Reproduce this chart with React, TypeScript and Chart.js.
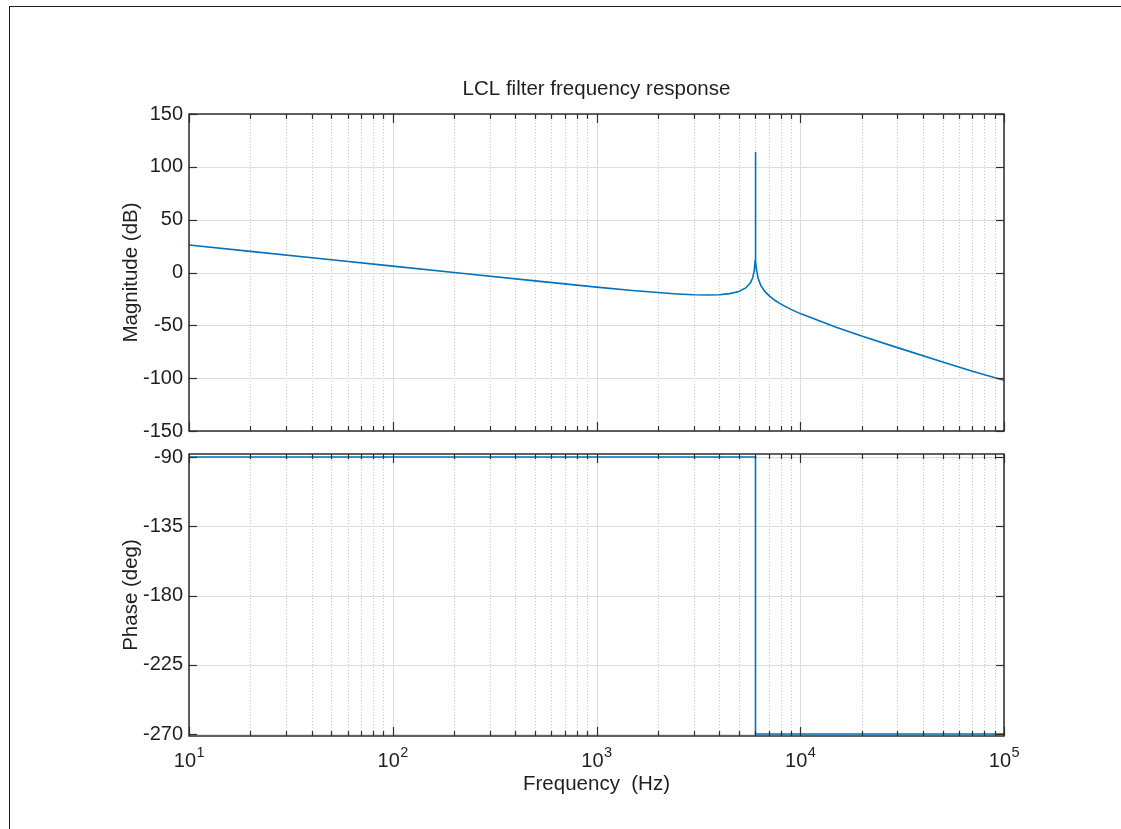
import React, { useEffect, useRef } from 'react';
import { Chart, registerables } from 'chart.js';

Chart.register(...registerables);

// ---- data ----
const TITLE = 'LCL filter frequency response';

// Magnitude response of the LCL filter (Hz, dB)
const FREQ_HZ = [
  10, 20, 50, 100, 200, 500, 1000,
  1500, 2000, 2500, 3000, 3500, 4000, 4500, 5000,
  5400, 5700, 5850, 5950, 6000, 6020,
  6029, 6030, 6031, 6040, 6060, 6100,
  6200, 6400, 6700, 7000, 7500, 8000, 9000, 10000,
  15000, 20000, 30000, 50000, 70000, 100000,
];
const MAGNITUDE_DB = [
  26.0, 20.0, 12.0, 6.0, 0.0, -7.9, -13.8,
  -17.0, -19.0, -20.3, -21.1, -21.3, -21.0, -20.0, -17.9,
  -14.6, -9.7, -4.7, 2.1, 10.5, 20.0,
  40.0, 114.0, 40.0, 20.0, 10.2, 3.0,
  -4.9, -12.2, -17.9, -21.7, -26.3, -29.7, -34.9, -38.9,
  -51.8, -60.0, -71.1, -84.6, -93.4, -102.0,
];

// Phase response (Hz, degrees)
const PHASE_FREQ_HZ = [10, 6030, 6030, 100000];
const PHASE_DEG = [-90, -90, -270, -270];

// ---- axes ----
const X_MIN = 10;
const X_MAX = 100000;
const X_DECADES = [10, 100, 1000, 10000, 100000];
const X_DECADE_EXPONENTS = ['1', '2', '3', '4', '5'];
const X_MINOR_STEPS = [2, 3, 4, 5, 6, 7, 8, 9];
const MAG_TICKS = [-150, -100, -50, 0, 50, 100, 150];
const MAG_RANGE = [-150, 150];
const PHASE_TICKS = [-270, -225, -180, -135, -90];
const PHASE_RANGE = [-271.3, -88.05];

const X_MINOR: number[] = [];
X_DECADES.slice(0, -1).forEach((d) => X_MINOR_STEPS.forEach((m) => X_MINOR.push(d * m)));

const FONT = "'Liberation Sans', Arial, Helvetica, sans-serif";
const TEXT = '#1f1f1f';
const LINE_BLUE = '#0072BD';
const AXIS = '#2e2e2e';

const W = 1121;
const H = 829;

function makeFrame(yTicks: number[]) {
  return {
    id: 'bodeFrame',
    beforeDatasetsDraw(chart: any) {
      const { ctx, chartArea: a } = chart;
      const xs = chart.scales.x;
      const ys = chart.scales.y;
      const seg = (x1: number, y1: number, x2: number, y2: number) => {
        ctx.beginPath();
        ctx.moveTo(x1, y1);
        ctx.lineTo(x2, y2);
        ctx.stroke();
      };
      ctx.save();
      ctx.lineWidth = 1;
      // dotted minor grid
      ctx.strokeStyle = '#c6c6c6';
      ctx.setLineDash([1, 2]);
      X_MINOR.forEach((v) => {
        const px = Math.round(xs.getPixelForValue(v)) + 0.5;
        seg(px, a.top, px, a.bottom);
      });
      // solid major grid
      ctx.setLineDash([]);
      ctx.strokeStyle = '#dcdcdc';
      X_DECADES.forEach((v) => {
        const px = Math.round(xs.getPixelForValue(v)) + 0.5;
        seg(px, a.top, px, a.bottom);
      });
      yTicks.forEach((v) => {
        const py = Math.round(ys.getPixelForValue(v)) + 0.5;
        seg(a.left, py, a.right, py);
      });
      ctx.restore();
    },
    afterDatasetsDraw(chart: any) {
      const { ctx, chartArea: a } = chart;
      const xs = chart.scales.x;
      const ys = chart.scales.y;
      const seg = (x1: number, y1: number, x2: number, y2: number) => {
        ctx.beginPath();
        ctx.moveTo(x1, y1);
        ctx.lineTo(x2, y2);
        ctx.stroke();
      };
      ctx.save();
      ctx.strokeStyle = AXIS;
      ctx.lineWidth = 1.2;
      // inward tick marks on all four sides
      X_MINOR.forEach((v) => {
        const px = Math.round(xs.getPixelForValue(v)) + 0.5;
        seg(px, a.top, px, a.top + 5);
        seg(px, a.bottom, px, a.bottom - 5);
      });
      X_DECADES.forEach((v) => {
        const px = Math.round(xs.getPixelForValue(v)) + 0.5;
        seg(px, a.top, px, a.top + 9);
        seg(px, a.bottom, px, a.bottom - 9);
      });
      yTicks.forEach((v) => {
        const py = Math.round(ys.getPixelForValue(v)) + 0.5;
        seg(a.left, py, a.left + 8, py);
        seg(a.right, py, a.right - 8, py);
      });
      ctx.lineWidth = 1.5;
      ctx.strokeRect(a.left, a.top, a.right - a.left, a.bottom - a.top);
      ctx.restore();
    },
  };
}

// decade labels written as 10 with a raised exponent
const decadeLabels = {
  id: 'decadeLabels',
  afterDraw(chart: any) {
    const { ctx, chartArea: a } = chart;
    const xs = chart.scales.x;
    ctx.save();
    ctx.fillStyle = TEXT;
    ctx.textAlign = 'left';
    ctx.textBaseline = 'alphabetic';
    X_DECADES.forEach((v, i) => {
      const px = xs.getPixelForValue(v);
      ctx.font = `20px ${FONT}`;
      const wBase = ctx.measureText('10').width;
      ctx.font = `14.5px ${FONT}`;
      const wExp = ctx.measureText(X_DECADE_EXPONENTS[i]).width;
      const x0 = px - (wBase + wExp) / 2;
      ctx.font = `20px ${FONT}`;
      ctx.fillText('10', x0, a.bottom + 31);
      ctx.font = `14.5px ${FONT}`;
      ctx.fillText(X_DECADE_EXPONENTS[i], x0 + wBase + 0.5, a.bottom + 21);
    });
    ctx.restore();
  },
};

function yAxis(range: number[], ticks: number[], label: string) {
  return {
    type: 'linear' as const,
    min: range[0],
    max: range[1],
    afterBuildTicks: (s: any) => {
      s.ticks = ticks.map((v) => ({ value: v }));
    },
    afterFit: (s: any) => {
      s.width = 189;
    },
    grid: { display: false, drawTicks: false, tickLength: 0 },
    border: { display: false },
    ticks: {
      padding: 6,
      color: TEXT,
      font: { family: FONT, size: 20 },
      callback: (v: any) => String(v),
    },
    title: {
      display: true,
      text: label,
      color: TEXT,
      font: { family: FONT, size: 20.5 },
      padding: { top: 119, bottom: 0 },
    },
  };
}

function xAxis(showTitle: boolean) {
  return {
    type: 'logarithmic' as const,
    min: X_MIN,
    max: X_MAX,
    display: showTitle,
    afterBuildTicks: (s: any) => {
      s.ticks = [...X_MINOR, ...X_DECADES].sort((p, q) => p - q).map((v) => ({ value: v }));
    },
    afterFit: (s: any) => {
      s.height = showTitle ? 62 : 0;
    },
    grid: { display: false, drawTicks: false, tickLength: 0 },
    border: { display: false },
    ticks: { display: false },
    title: {
      display: showTitle,
      text: 'Frequency  (Hz)',
      color: TEXT,
      font: { family: FONT, size: 20.5 },
      padding: { top: 0, bottom: 1 },
    },
  };
}

export default function App() {
  const magRef = useRef<HTMLCanvasElement>(null);
  const phaseRef = useRef<HTMLCanvasElement>(null);

  useEffect(() => {
    const mag = new Chart(magRef.current as HTMLCanvasElement, {
      type: 'line',
      data: {
        datasets: [
          {
            data: FREQ_HZ.map((f, i) => ({ x: f, y: MAGNITUDE_DB[i] })),
            borderColor: LINE_BLUE,
            borderWidth: 1.6,
            pointRadius: 0,
            tension: 0,
            fill: false,
          },
        ],
      },
      options: {
        responsive: false,
        animation: false,
        events: [],
        layout: { padding: { left: 0, right: 117, top: 0, bottom: 398 } },
        plugins: {
          legend: { display: false },
          tooltip: { enabled: false },
          title: {
            display: true,
            text: TITLE,
            fullSize: false,
            color: TEXT,
            font: { family: FONT, size: 20.5, weight: 'normal' },
            padding: { top: 76.7, bottom: 12.7 },
          },
        },
        scales: {
          x: xAxis(false),
          y: yAxis(MAG_RANGE, MAG_TICKS, 'Magnitude (dB)'),
        },
      } as any,
      plugins: [makeFrame(MAG_TICKS)],
    });

    const phase = new Chart(phaseRef.current as HTMLCanvasElement, {
      type: 'line',
      data: {
        datasets: [
          {
            data: PHASE_FREQ_HZ.map((f, i) => ({ x: f, y: PHASE_DEG[i] })),
            borderColor: LINE_BLUE,
            borderWidth: 1.6,
            pointRadius: 0,
            tension: 0,
            fill: false,
          },
        ],
      },
      options: {
        responsive: false,
        animation: false,
        events: [],
        layout: { padding: { left: 0, right: 117, top: 454, bottom: 31 } },
        plugins: {
          legend: { display: false },
          tooltip: { enabled: false },
          title: { display: false },
        },
        scales: {
          x: xAxis(true),
          y: yAxis(PHASE_RANGE, PHASE_TICKS, 'Phase (deg)'),
        },
      } as any,
      plugins: [makeFrame(PHASE_TICKS), decadeLabels],
    });

    return () => {
      mag.destroy();
      phase.destroy();
    };
  }, []);

  const layer: React.CSSProperties = { position: 'absolute', left: 0, top: 0 };

  return (
    <div style={{ position: 'fixed', left: 0, top: 0, width: W, height: H, background: '#fff', overflow: 'hidden' }}>
      <div
        style={{
          position: 'absolute',
          left: 9,
          top: 6,
          right: 0,
          bottom: 0,
          borderTop: '1px solid #1a1a1a',
          borderLeft: '1px solid #1a1a1a',
        }}
      />
      <canvas ref={magRef} width={W} height={H} style={layer} />
      <canvas ref={phaseRef} width={W} height={H} style={layer} />
    </div>
  );
}
